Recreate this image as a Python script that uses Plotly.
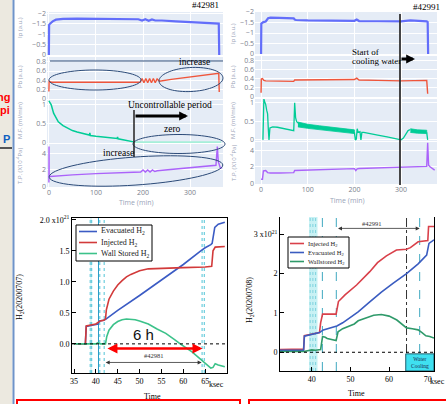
import numpy as np
import plotly.graph_objects as go

W, H = 446, 404
def fx(p): return p / W
def fy(p): return 1 - p / H

# ---------------- data: shot #42981 (top left) ----------------
t_ip_a = [0, 0.5, 3, 8, 15, 30, 60, 100, 150, 190, 198, 205, 212, 219, 226, 240, 270, 300, 330, 355, 361, 362]
ip_a = [0, -1.45, -1.52, -1.62, -1.70, -1.74, -1.75, -1.75, -1.74, -1.72, -1.66, -1.72, -1.65, -1.71, -1.66, -1.66, -1.62, -1.59, -1.55, -1.52, -1.51, 0]
t_pb_a = [0, 0.5, 5, 50, 100, 150, 194, 198, 202, 206, 210, 214, 218, 222, 226, 230, 235, 260, 290, 320, 350, 361, 362]
pb_a = [0.16, 0.38, 0.36, 0.36, 0.36, 0.36, 0.36, 0.44, 0.35, 0.44, 0.35, 0.44, 0.35, 0.44, 0.35, 0.43, 0.38, 0.42, 0.46, 0.50, 0.54, 0.55, 0.15]
t_mf_a = [0, 2, 5, 10, 15, 20, 30, 40, 50, 60, 70, 80, 86, 87, 88, 100, 120, 140, 145, 146, 147, 160, 170, 180]
mf_a = [1.11, 1.07, 1.0, 0.78, 0.65, 0.55, 0.45, 0.38, 0.32, 0.28, 0.25, 0.22, 0.2, 0.26, 0.19, 0.17, 0.14, 0.12, 0.11, 0.15, 0.10, 0.07, 0.05, 0.02]
t_mf_a_zero = [180, 366]
mf_a_zero = [0, 0]
t_tp_a = [0, 0.3, 0.6, 3, 20, 50, 100, 150, 195, 200, 205, 210, 215, 220, 225, 230, 250, 300, 330, 355, 358, 360, 364, 368]
tp_a = [0.5, 4.8, 1.3, 1.2, 1.3, 1.4, 1.55, 1.65, 1.75, 2.0, 1.75, 2.0, 1.75, 2.0, 1.8, 1.9, 2.0, 2.2, 2.35, 2.55, 4.8, 3.0, 2.3, 2.2]

# ---------------- data: shot #42991 (top right) ----------------
t_ip_b = [0, 0.5, 5, 10, 15, 20, 40, 70, 72, 75, 100, 150, 200, 205, 210, 250, 280, 300, 320, 340, 355, 357, 358]
ip_b = [0, -1.45, -1.52, -1.55, -1.70, -1.73, -1.72, -1.70, -1.64, -1.62, -1.60, -1.60, -1.58, -1.64, -1.57, -1.56, -1.54, -1.55, -1.60, -1.58, -1.55, -1.52, 0]
t_pb_b = [0, 0.5, 3, 6, 10, 40, 70, 72, 100, 150, 200, 205, 210, 250, 300, 355, 357]
pb_b = [0.09, 0.39, 0.40, 0.36, 0.35, 0.34, 0.34, 0.37, 0.37, 0.37, 0.38, 0.41, 0.37, 0.36, 0.35, 0.36, 0.07]
t_mf_b = [4, 6, 8, 10, 12, 14, 15.5, 17, 19, 25, 35, 50, 60, 70, 71, 72, 74, 76, 79, 79, 200, 200, 202, 204, 206, 208, 212, 214, 216, 220, 230, 250, 270, 290, 300, 305, 310, 315, 320, 320, 355, 355, 357]
mf_b = [0.0, 1.1, 1.02, 0.95, 0.8, 0.7, 0.3, 0.0, 0.32, 0.35, 0.34, 0.3, 0.27, 0.25, 0.6, 1.0, 0.6, 0.5, 0.45, None, None, 0.2, 0.0, 0.02, 0.3, 0.2, 0.22, 0.0, 0.2, 0.2, 0.18, 0.13, 0.08, 0.03, 0.0, 0.05, 0.15, 0.25, 0.28, None, None, 0.2, 0.0]
t_mfb_band1 = [79, 100, 125, 150, 175, 200]
mfb_upper1 = [0.48, 0.42, 0.38, 0.34, 0.30, 0.27]
mfb_lower1 = [0.35, 0.31, 0.27, 0.23, 0.20, 0.17]
t_mfb_band2 = [320, 335, 355]
mfb_upper2 = [0.30, 0.27, 0.26]
mfb_lower2 = [0.20, 0.18, 0.17]
t_tp_b = [0, 3, 5, 7, 10, 14, 20, 40, 70, 72, 100, 150, 200, 203, 206, 210, 250, 300, 340, 355, 357, 359, 362, 366, 372]
tp_b = [0.5, 0.5, 1.5, 1.5, 1.55, 1.3, 1.25, 1.25, 1.3, 1.55, 1.6, 1.7, 1.78, 1.55, 1.75, 1.8, 1.85, 1.95, 2.0, 2.05, 4.9, 2.2, 2.0, 1.8, 1.6]

time_ticks = [0, 100, 200, 300]

# ---------------- data: H2 balance 20200707 (bottom left) ----------------
evac_a_t = [35, 37.6, 37.8, 39, 40.5, 40.8, 41.8, 42.3, 45, 50, 55, 60, 64, 65, 66.3, 66.6, 67.2, 68, 69.5]
evac_a = [0, 0, 0.28, 0.30, 0.32, 0.37, 0.38, 0.40, 0.54, 0.78, 1.03, 1.28, 1.50, 1.55, 1.60, 1.62, 1.88, 1.93, 1.96]
inj_a_t = [35, 37.6, 37.8, 39, 40, 40.6, 41, 41.8, 42.2, 42.4, 43, 44, 45, 46, 47, 48, 50, 52, 55, 60, 65, 66.5, 66.8, 67.3, 69.5]
inj_a = [0, 0, 0.29, 0.31, 0.32, 0.35, 0.37, 0.38, 0.40, 0.55, 0.72, 0.85, 0.95, 1.02, 1.08, 1.12, 1.18, 1.21, 1.22, 1.23, 1.24, 1.25, 1.50, 1.56, 1.57]
wall_a_t = [35, 38, 39.5, 40, 40.5, 41, 42.2, 42.5, 43, 44, 45, 46, 47, 48, 49, 50, 52, 54, 56, 58, 59.3, 62, 64, 65, 66.3, 66.8, 67.3, 68, 69.5]
wall_a = [0, 0, 0.01, 0.0, 0.02, 0.0, 0.0, 0.12, 0.22, 0.31, 0.36, 0.39, 0.40, 0.40, 0.39, 0.37, 0.32, 0.24, 0.17, 0.07, 0.0, -0.13, -0.25, -0.31, -0.39, -0.38, -0.32, -0.34, -0.37]
ytick_a = [-0.5, 0.0, 0.5, 1.0, 1.5, 2.0]
ytext_a = ['-0.5', '0.0', '0.5', '1.0', '1.5', '2.0 x10<sup>21</sup>']
xtick_a = [35, 40, 45, 50, 55, 60, 65]

# ---------------- data: H2 balance 20200708 (bottom right) ----------------
inj_b_t = [31.8, 37.9, 38.1, 40, 42.0, 42.3, 42.8, 46.3, 46.6, 46.9, 48.6, 50, 51.6, 55, 57, 59.3, 61.9, 64.5, 65.5, 67.5, 70.0, 70.2, 71.6]
inj_b = [0.07, 0.08, 0.42, 0.45, 0.50, 0.75, 0.97, 0.97, 1.2, 1.29, 1.46, 1.58, 1.71, 2.05, 2.28, 2.45, 2.60, 2.62, 2.66, 2.81, 2.84, 3.2, 3.2]
evac_b_t = [31.8, 37.9, 38.1, 40, 42, 43, 45, 46.5, 48, 50, 52, 55, 58, 61, 64.5, 67.5, 69.7, 70.3, 71.6]
evac_b = [0.05, 0.05, 0.41, 0.45, 0.50, 0.57, 0.62, 0.67, 0.75, 0.88, 1.03, 1.28, 1.53, 1.75, 2.0, 2.25, 2.47, 2.77, 2.86]
wall_b_t = [31.8, 38, 40, 41, 42.3, 42.8, 43.5, 44, 46.3, 46.8, 48, 50, 51, 52, 54, 56, 58, 60, 62, 64.5, 66, 67.5, 68.5, 69.5, 70.5, 71.6]
wall_b = [0.02, 0.02, 0.06, 0.05, 0.07, 0.40, 0.38, 0.35, 0.30, 0.52, 0.60, 0.68, 0.72, 0.80, 0.87, 0.94, 0.96, 0.92, 0.82, 0.62, 0.60, 0.57, 0.50, 0.42, 0.40, 0.36]
ytick_b = [0, 1, 2, 3]
ytext_b = ['0', '1', '2', '3 x10<sup>21</sup>']
xtick_b = [40, 50, 60, 70]

# ---------------- styling constants ----------------
C_IP, C_PB, C_MF, C_TP = '#636EFA', '#EF553B', '#00CC96', '#AB63FA'
SERIF = 'Liberation Serif'
SANS = 'Open Sans'
TICKC = '#7a808c'
TITC = '#9aa4b8'

fig = go.Figure()
layout = dict(width=W, height=H, margin=dict(l=0, r=0, t=0, b=0, autoexpand=False),
              paper_bgcolor='white', plot_bgcolor='rgba(0,0,0,0)',
              template='plotly', showlegend=False)
shapes = []
annotations = []

def add_shape_px(**kw):
    shapes.append(dict(xref='paper', yref='paper', **kw))

def ann_px(x, y, text, size=8, color='black', family=SERIF, angle=0, xanchor='center', **kw):
    annotations.append(dict(xref='paper', yref='paper', x=fx(x), y=fy(y), text=text,
                            showarrow=False, textangle=angle, xanchor=xanchor, yanchor='middle',
                            font=dict(size=size, color=color, family=family), **kw))

# slide background elements
add_shape_px(type='rect', x0=0, x1=fx(12.5), y0=0, y1=1, fillcolor='#ECE9E0', line_width=0, layer='below')
add_shape_px(type='line', x0=fx(13.5), x1=fx(13.5), y0=0, y1=1, line=dict(color='#6f93c9', width=2))
add_shape_px(type='line', x0=0, x1=fx(12), y0=fy(148), y1=fy(148), line=dict(color='#555555', width=2))
ann_px(12, 97, '<b>ng</b>', size=11, color='#ff0000', family='Liberation Sans', xanchor='right')
ann_px(12, 110, '<b>pi</b>', size=11, color='#ff0000', family='Liberation Sans', xanchor='right')
ann_px(12, 139, '<b>P</b>', size=11, color='#1060c0', family='Liberation Sans', xanchor='right')
add_shape_px(type='rect', x0=fx(17), x1=fx(240), y0=fy(420), y1=fy(400), line=dict(color='#ff0000', width=2))
add_shape_px(type='rect', x0=fx(249), x1=fx(460), y0=fy(420), y1=fy(400), line=dict(color='#ff0000', width=2))

# ---------------- top panels ----------------
top_cols = [
    dict(x0=47, x1=223, rows=[(12, 55), (57, 99), (100, 143), (144, 187)], xr=[-4, 370],
         yr=[[0, -2.07], [0, 0.9], [-0.01, 1.13], [-0.05, 5.1]],
         titles_y=[28, 77, 121, 166], title_x=20, timelab=(136, 202)),
    dict(x0=255, x1=437, rows=[(12, 54), (56, 97), (99, 141), (142, 184)], xr=[-13, 377],
         yr=[[0, -2.0], [0, 0.89], [-0.03, 1.1], [-0.08, 5.0]],
         titles_y=[33, 76, 120, 163], title_x=233, timelab=(347, 200)),
]
ytick_sets = [[-2, -1.5, -1, -0.5, 0], [0, 0.2, 0.4, 0.6, 0.8], [0, 0.5, 1], [0, 2, 4]]
ytitles = ['Ip (a.u.)', 'Pb (a.u.)', 'M.F. (ml/min)', 'T.P. (X10<sup>-4</sup>Pa)']

ax_i = 0
for ci, col in enumerate(top_cols):
    for ri, (top, bot) in enumerate(col['rows']):
        ax_i += 1
        xn = 'xaxis' if ax_i == 1 else f'xaxis{ax_i}'
        yn = 'yaxis' if ax_i == 1 else f'yaxis{ax_i}'
        xr_ = 'x' if ax_i == 1 else f'x{ax_i}'
        yr_ = 'y' if ax_i == 1 else f'y{ax_i}'
        layout[xn] = dict(domain=[fx(col['x0']), fx(col['x1'])], range=col['xr'], anchor=yr_,
                          tickvals=time_ticks, showticklabels=(ri == 3), gridcolor='white',
                          zeroline=False, showline=False, ticks='', automargin=False,
                          tickfont=dict(size=7, color=TICKC, family=SANS))
        layout[yn] = dict(domain=[fy(bot), fy(top)], range=col['yr'][ri], anchor=xr_,
                          tickvals=ytick_sets[ri], gridcolor='white', zeroline=False, automargin=False,
                          showline=False, ticks='', tickfont=dict(size=7, color=TICKC, family=SANS))
        add_shape_px(type='rect', x0=fx(col['x0']), x1=fx(col['x1']), y0=fy(bot), y1=fy(top),
                     fillcolor='#E5ECF6', line_width=0, layer='below')
        ann_px(col['title_x'], col['titles_y'][ri], ytitles[ri], size=6, color=TITC, family=SANS, angle=-90)
    ann_px(col['timelab'][0], col['timelab'][1], 'Time (min)', size=7, color=TITC, family=SANS)

def line(x, y, axn, color, width=1.3, **kw):
    xr_ = 'x' if axn == 1 else f'x{axn}'
    yr_ = 'y' if axn == 1 else f'y{axn}'
    fig.add_trace(go.Scatter(x=x, y=y, xaxis=xr_, yaxis=yr_, mode='lines',
                             line=dict(color=color, width=width), showlegend=False,
                             hoverinfo='skip', **kw))

line(t_ip_a, ip_a, 1, C_IP, 2.2)
line(t_pb_a, pb_a, 2, C_PB, 1.4)
line(t_mf_a, mf_a, 3, C_MF, 1.5)
line(t_mf_a_zero, mf_a_zero, 3, '#a6efd9', 2.5)
line(t_tp_a, tp_a, 4, C_TP, 1.4)

line(t_ip_b, ip_b, 5, C_IP, 2.2)
line(t_pb_b, pb_b, 6, C_PB, 1.4)
line(t_mf_b, mf_b, 7, C_MF, 1.3)
for tb, up, lo in [(t_mfb_band1, mfb_upper1, mfb_lower1), (t_mfb_band2, mfb_upper2, mfb_lower2)]:
    line(tb + tb[::-1], up + lo[::-1], 7, C_MF, 0.8, fill='toself', fillcolor=C_MF)
line(t_tp_b, tp_b, 8, C_TP, 1.4)

# annotations on top panels
def ellipse_path(cx, cy, a, b, ang_deg, n=72):
    th = np.linspace(0, 2 * np.pi, n)
    ang = np.deg2rad(ang_deg)
    xs = cx + a * np.cos(th) * np.cos(ang) - b * np.sin(th) * np.sin(ang)
    ys = cy + a * np.cos(th) * np.sin(ang) + b * np.sin(th) * np.cos(ang)
    return 'M ' + ' L '.join(f'{fx(x):.5f},{fy(y):.5f}' for x, y in zip(xs, ys)) + ' Z'

ELC = '#2b4a78'
for cx, cy, a, b, ang in [(95, 80, 46, 10, 0), (191, 79.5, 32, 12, -3),
                          (179, 144, 46, 9.5, 0), (136, 171, 87, 14, -4)]:
    add_shape_px(type='path', path=ellipse_path(cx, cy, a, b, ang), line=dict(color=ELC, width=1))
add_shape_px(type='line', x0=fx(50), x1=fx(223), y0=fy(61), y1=fy(61), line=dict(color='#2b4a78', width=1))
ann_px(194, 62, 'increase', size=9.5)
ann_px(170, 105, 'Uncontrollable period', size=9.5)
ann_px(172, 129, 'zero', size=9.5)
ann_px(118, 153, 'increase', size=9.5)
add_shape_px(type='line', x0=fx(134), x1=fx(134), y0=fy(157), y1=fy(110), line=dict(color='#222', width=1.5))
annotations.append(dict(xref='paper', yref='paper', x=fx(188), y=fy(116), ax=-54, ay=0, text='',
                        showarrow=True, arrowhead=2, arrowsize=0.55, arrowwidth=3.2, arrowcolor='black'))
ann_px(205, 5, '#42981', size=9)
ann_px(426, 7, '#42991', size=9)
add_shape_px(type='line', x0=fx(400), x1=fx(400), y0=fy(185), y1=fy(14), line=dict(color='#333', width=1.8))
ann_px(365, 52, 'Start of', size=9)
ann_px(376, 61, 'cooling water', size=9)
annotations.append(dict(xref='paper', yref='paper', x=fx(415), y=fy(59), ax=-15, ay=0, text='',
                        showarrow=True, arrowhead=2, arrowsize=0.55, arrowwidth=3.2, arrowcolor='black'))

# ---------------- bottom panels ----------------
def box_axes(n, xd, yd, xr, yrng, xt, yt, ytt, mirror_x=True):
    layout[f'xaxis{n}'] = dict(domain=xd, range=xr, anchor=f'y{n}', tickvals=xt,
                               ticks='inside', ticklen=4, tickcolor='black', showline=True,
                               linecolor='black', linewidth=1, mirror=mirror_x, showgrid=False,
                               zeroline=False, automargin=False,
                               tickfont=dict(size=8, color='black', family=SERIF))
    layout[f'yaxis{n}'] = dict(domain=yd, range=yrng, anchor=f'x{n}', tickvals=yt, ticktext=ytt,
                               ticks='inside', ticklen=4, tickcolor='black', showline=True,
                               linecolor='black', linewidth=1, mirror=True, showgrid=False,
                               zeroline=False, automargin=False,
                               tickfont=dict(size=8, color='black', family=SERIF))

box_axes(9, [fx(72), fx(227)], [fy(373), fy(218)], [34.54, 70.0], [-0.47, 2.03], xtick_a, ytick_a, ytext_a)
box_axes(10, [fx(280), fx(434)], [fy(371), fy(217)], [31.8, 71.6], [-0.476, 3.44], xtick_b, ytick_b, ytext_b, mirror_x=False)

def vline(n, x, color, dash='dot', width=1):
    shapes.append(dict(type='line', xref=f'x{n}', yref=f'y{n} domain', x0=x, x1=x, y0=0, y1=1,
                       line=dict(color=color, dash=dash, width=width), layer='below'))

# reference lines (bottom left)
shapes.append(dict(type='rect', xref='x9', yref='y9 domain', x0=38.65, x1=39.1, y0=0, y1=1,
                   fillcolor='#dff6f8', line_width=0, layer='below'))
for xv in [38.7, 39.05, 40.9, 41.9, 64.3, 64.8]:
    vline(9, xv, '#4fc3d6')
vline(9, 40.6, '#2a9cc8', dash='solid')
shapes.append(dict(type='line', xref='x9 domain', yref='y9', x0=0, x1=1, y0=0, y1=0,
                   line=dict(color='black', dash='dot', width=1)))

# reference lines (bottom right)
shapes.append(dict(type='rect', xref='x10', yref='y10 domain', x0=39.3, x1=41.5, y0=0, y1=1,
                   fillcolor='#c8f1f4', line_width=0, layer='below'))
for xv in [39.6, 40.3, 41.0]:
    vline(10, xv, '#7fd3de')
for xv in [42.75, 46.35, 67.9]:
    vline(10, xv, '#3fa8c0', dash='dash')
vline(10, 64.5, '#333333', dash='dashdot')
shapes.append(dict(type='line', xref='x10 domain', yref='y10', x0=0, x1=1, y0=0, y1=0,
                   line=dict(color='black', dash='dot', width=1)))
shapes.append(dict(type='rect', xref='x10', yref='y10', x0=64.3, x1=71.6, y0=-0.476, y1=-0.04,
                   fillcolor='#3fe0f0', line=dict(color='#1f5f6f', width=1)))
annotations.append(dict(xref='x10', yref='y10', x=67.95, y=-0.25, text='Water<br>Cooling', showarrow=False,
                        font=dict(size=5.5, family=SERIF, color='#1a2a50')))

# traces bottom
series_a = [(evac_a_t, evac_a, 'Evacuated H<sub>2</sub>', '#3b5bc4'),
            (inj_a_t, inj_a, 'Injected H<sub>2</sub>', '#d23a3a'),
            (wall_a_t, wall_a, 'Wall Stored H<sub>2</sub>', '#3cc28a')]
series_b = [(inj_b_t, inj_b, 'Injected H<sub>2</sub>', '#d9404a'),
            (evac_b_t, evac_b, 'Evacuated H<sub>2</sub>', '#3a5cc0'),
            (wall_b_t, wall_b, 'Wallstored H<sub>2</sub>', '#2f9a6a')]
for x, y, nm, c in series_a:
    fig.add_trace(go.Scatter(x=x, y=y, xaxis='x9', yaxis='y9', mode='lines', name=nm,
                             line=dict(color=c, width=1.6)))
for x, y, nm, c in series_b:
    fig.add_trace(go.Scatter(x=x, y=y, xaxis='x10', yaxis='y10', mode='lines', name=nm,
                             line=dict(color=c, width=1.6)))

# compact legends drawn as boxes
def legend_box(x0, x1, y0, y1, rows_y, lx0, lx1, tx, series, size):
    add_shape_px(type='rect', x0=fx(x0), x1=fx(x1), y0=fy(y1), y1=fy(y0),
                 fillcolor='white', line=dict(color='black', width=1))
    for yy, (_, _, nm, c) in zip(rows_y, series):
        add_shape_px(type='line', x0=fx(lx0), x1=fx(lx1), y0=fy(yy), y1=fy(yy), line=dict(color=c, width=1.6))
        ann_px(tx, yy, nm, size=size, color='#222', xanchor='left')

legend_box(76, 152, 225, 261, [231.5, 242.5, 253.5], 79, 97, 99, series_a, 8)
legend_box(288, 349, 237, 268, [243.5, 252.5, 261.5], 290, 304, 306, series_b, 6.5)

# arrows bottom left
annotations.append(dict(xref='x9', yref='y9', axref='x9', ayref='y9', x=64.4, y=-0.076, ax=42.3, ay=-0.076,
                        text='', showarrow=True, arrowhead=2, arrowside='end+start', arrowsize=0.8,
                        arrowwidth=2.5, arrowcolor='#ff0000'))
annotations.append(dict(xref='x9', yref='y9', axref='x9', ayref='y9', x=64.2, y=-0.30, ax=41.9, ay=-0.30,
                        text='', showarrow=True, arrowhead=2, arrowside='end+start', arrowsize=1,
                        arrowwidth=0.8, arrowcolor='#333'))
annotations.append(dict(xref='x9', yref='y9', x=53.4, y=-0.19, text='#42981', showarrow=False,
                        font=dict(size=6.5, family=SERIF, color='#333')))
annotations.append(dict(xref='x9', yref='y9', x=50.8, y=0.15, text='6 h', showarrow=False,
                        font=dict(size=15, family='Liberation Sans', color='#111')))
# arrows bottom right
annotations.append(dict(xref='x10', yref='y10', axref='x10', ayref='y10', x=67.9, y=3.15, ax=46.4, ay=3.15,
                        text='', showarrow=True, arrowhead=2, arrowside='end+start', arrowsize=1,
                        arrowwidth=0.8, arrowcolor='#333'))
annotations.append(dict(xref='x10', yref='y10', x=55.5, y=3.28, text='#42991', showarrow=False,
                        font=dict(size=6.5, family=SERIF, color='#333')))

ann_px(20, 297, 'H<sub>2</sub>(20200707)', size=8, angle=-90)
ann_px(250, 300, 'H<sub>2</sub>(20200708)', size=8, angle=-90)
ann_px(152, 396, 'Time', size=8)
ann_px(356, 393, 'Time', size=8)
ann_px(216, 384, 'ksec', size=8)
ann_px(437, 381, 'ksec', size=8)

layout['shapes'] = shapes
layout['annotations'] = annotations
fig.update_layout(**layout)
fig.write_html('out.html', config={'displayModeBar': False},
               post_script="document.body.style.margin='0';document.body.style.overflow='hidden';")
